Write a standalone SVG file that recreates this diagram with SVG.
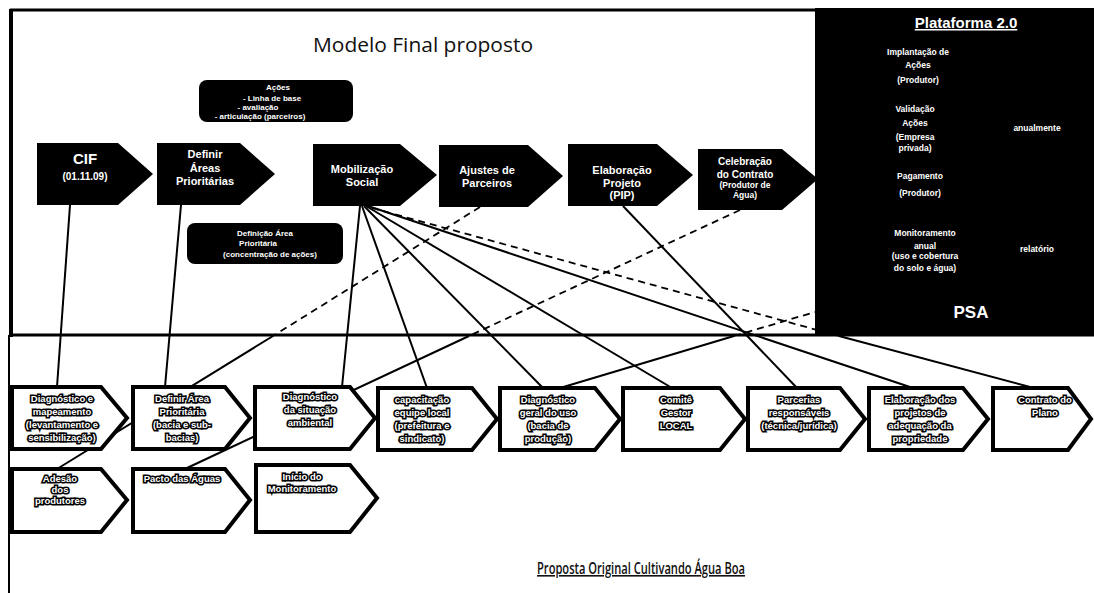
<svg xmlns="http://www.w3.org/2000/svg" width="1094" height="593" viewBox="0 0 1094 593">
<style>
.frame{stroke:#000;fill:none}
.c{stroke:#000;stroke-width:2;fill:none}
.d{stroke:#000;stroke-width:1.8;fill:none;stroke-dasharray:7 5}
.bk{fill:#000}
.wb{fill:#fff;stroke:#000;stroke-width:4;stroke-linejoin:miter}
.tw{fill:#fff;font-family:"Liberation Sans",Arial,sans-serif;font-weight:bold;text-anchor:middle}
.to{fill:#fff;stroke:#000;stroke-width:3.2;paint-order:stroke;font-family:"Liberation Sans",Arial,sans-serif;font-weight:bold;font-size:9.5px;text-anchor:middle}
.ttl{fill:#111;font-family:"Open Sans","Liberation Sans",sans-serif;text-anchor:middle}
</style>
<rect width="1094" height="593" fill="#fff"/>
<g id="frame">
<line class="frame" x1="10" y1="10" x2="816" y2="10" stroke-width="3"/>
<line class="frame" x1="11" y1="9" x2="11" y2="337" stroke-width="4"/>
<line class="frame" x1="10" y1="335" x2="1094" y2="335" stroke-width="3"/>
<line class="frame" x1="9" y1="335" x2="9" y2="593" stroke-width="2"/>
</g>
<g id="connectors">
<line class="c" x1="70" y1="205" x2="57" y2="387"/>
<line class="c" x1="181" y1="205" x2="165" y2="387"/>
<line class="c" x1="360" y1="206" x2="342" y2="387"/>
<line class="c" x1="362" y1="206" x2="427" y2="388"/>
<line class="c" x1="364" y1="206" x2="543" y2="388"/>
<line class="c" x1="366" y1="206" x2="672" y2="388"/>
<line class="c" x1="368" y1="206" x2="913" y2="388"/>
<line class="c" x1="623" y1="206" x2="797" y2="388"/>
<line class="d" x1="480" y1="207" x2="273" y2="336"/>
<line class="c" x1="273" y1="336" x2="57" y2="469"/>
<line class="d" x1="740" y1="210" x2="469" y2="336"/>
<line class="c" x1="469" y1="336" x2="187" y2="468"/>
<line class="d" x1="372" y1="208" x2="839" y2="336"/>
<line class="c" x1="839" y1="336" x2="1030" y2="387"/>
<line class="c" x1="560" y1="388" x2="734" y2="336"/>
<line class="d" x1="734" y1="336" x2="815" y2="312"/>
</g>
<text class="ttl" x="423" y="52" font-size="20" textLength="220" lengthAdjust="spacingAndGlyphs">Modelo Final proposto</text>
<g id="n-acoes">
<rect class="bk" x="199" y="80" width="154" height="42" rx="8"/>
<text class="tw" font-size="8" x="278" y="90">Ações</text>
<text class="tw" font-size="8" x="272" y="101">- Linha de base</text>
<text class="tw" font-size="8" x="258" y="110">- avaliação</text>
<text class="tw" font-size="8" x="260" y="119">- articulação (parceiros)</text>
</g>
<g id="n-definicao">
<rect class="bk" x="187" y="223" width="156" height="41" rx="8"/>
<text class="tw" font-size="8" x="265" y="236">Definição Área</text>
<text class="tw" font-size="8" x="258" y="246">Prioritária</text>
<text class="tw" font-size="8" x="270" y="257">(concentração de ações)</text>
</g>
<g id="n-cif">
<path class="bk" d="M37,143 H118 L153,174 L118,205 H37 Z"/>
<text class="tw" font-size="15" x="85" y="164">CIF</text>
<text class="tw" font-size="10" x="85" y="180">(01.11.09)</text>
</g>
<g id="n-definir">
<path class="bk" d="M157,143 H240 L275,174 L240,205 H157 Z"/>
<text class="tw" font-size="11" x="205" y="158">Definir</text>
<text class="tw" font-size="11" x="205" y="172">Áreas</text>
<text class="tw" font-size="11" x="205" y="185">Prioritárias</text>
</g>
<g id="n-mobilizacao">
<path class="bk" d="M313,144 H400 L437,175 L400,206 H313 Z"/>
<text class="tw" font-size="11" x="362" y="173">Mobilização</text>
<text class="tw" font-size="11" x="362" y="186">Social</text>
</g>
<g id="n-ajustes">
<path class="bk" d="M439,145 H528 L563,176 L528,207 H439 Z"/>
<text class="tw" font-size="11" x="487" y="174">Ajustes de</text>
<text class="tw" font-size="11" x="487" y="187">Parceiros</text>
</g>
<g id="n-elaboracao">
<path class="bk" d="M568,144 H657 L693,175 L657,206 H568 Z"/>
<text class="tw" font-size="11" x="622" y="174">Elaboração</text>
<text class="tw" font-size="11" x="622" y="187">Projeto</text>
<text class="tw" font-size="11" x="622" y="199">(PIP)</text>
</g>
<g id="n-celebracao">
<path class="bk" d="M698,149 H782 L818,179 L782,210 H698 Z"/>
<text class="tw" font-size="10" x="745" y="165">Celebração</text>
<text class="tw" font-size="10" x="745" y="178">do Contrato</text>
<text class="tw" font-size="8.5" x="745" y="188">(Produtor de</text>
<text class="tw" font-size="8.5" x="745" y="198">Água)</text>
</g>
<g id="n-plataforma">
<rect class="bk" x="815" y="8" width="279" height="328"/>
<text class="tw" font-size="15" x="966" y="28" text-decoration="underline">Plataforma 2.0</text>
<text class="tw" font-size="8.5" x="918" y="55">Implantação de</text>
<text class="tw" font-size="8.5" x="918" y="68">Ações</text>
<text class="tw" font-size="8.5" x="918" y="83">(Produtor)</text>
<text class="tw" font-size="8.5" x="915" y="112">Validação</text>
<text class="tw" font-size="8.5" x="915" y="126">Ações</text>
<text class="tw" font-size="8.5" x="915" y="140">(Empresa</text>
<text class="tw" font-size="8.5" x="915" y="151">privada)</text>
<text class="tw" font-size="8.5" x="1037" y="131">anualmente</text>
<text class="tw" font-size="8.5" x="920" y="179">Pagamento</text>
<text class="tw" font-size="8.5" x="920" y="196">(Produtor)</text>
<text class="tw" font-size="8.5" x="925" y="236">Monitoramento</text>
<text class="tw" font-size="8.5" x="925" y="249">anual</text>
<text class="tw" font-size="8.5" x="925" y="259">(uso e cobertura</text>
<text class="tw" font-size="8.5" x="925" y="271">do solo e água)</text>
<text class="tw" font-size="8.5" x="1037" y="252">relatório</text>
<text class="tw" font-size="17" x="971" y="318">PSA</text>
</g>
<g id="b1">
<path class="wb" d="M12,387 H101 L127,418 L101,449 H12 Z"/>
<text class="to" x="62" y="402">Diagnóstico e</text>
<text class="to" x="62" y="415">mapeamento</text>
<text class="to" x="62" y="428">(levantamento e</text>
<text class="to" x="62" y="441">sensibilização)</text>
</g>
<g id="b2">
<path class="wb" d="M133,387 H225 L250,418 L225,449 H133 Z"/>
<text class="to" x="182" y="402">Definir Área</text>
<text class="to" x="182" y="415">Prioritária</text>
<text class="to" x="182" y="428">(bacia e sub-</text>
<text class="to" x="182" y="441">bacias)</text>
</g>
<g id="b3">
<path class="wb" d="M255,387 H350 L375,418 L350,449 H255 Z"/>
<text class="to" x="310" y="400">Diagnóstico</text>
<text class="to" x="310" y="413">da situação</text>
<text class="to" x="310" y="426">ambiental</text>
</g>
<g id="b4">
<path class="wb" d="M378,388 H472 L497,419 L472,450 H378 Z"/>
<text class="to" x="422" y="403">capacitação</text>
<text class="to" x="422" y="416">equipe local</text>
<text class="to" x="422" y="429">(prefeitura e</text>
<text class="to" x="422" y="442">sindicato)</text>
</g>
<g id="b5">
<path class="wb" d="M500,388 H595 L620,419 L595,450 H500 Z"/>
<text class="to" x="548" y="403">Diagnóstico</text>
<text class="to" x="548" y="416">geral do uso</text>
<text class="to" x="548" y="429">(bacia de</text>
<text class="to" x="548" y="442">produção)</text>
</g>
<g id="b6">
<path class="wb" d="M623,388 H720 L745,419 L720,450 H623 Z"/>
<text class="to" x="676" y="403">Comitê</text>
<text class="to" x="676" y="416">Gestor</text>
<text class="to" x="676" y="429">LOCAL</text>
</g>
<g id="b7">
<path class="wb" d="M748,388 H840 L865,419 L840,450 H748 Z"/>
<text class="to" x="799" y="403">Parcerias</text>
<text class="to" x="799" y="416">responsáveis</text>
<text class="to" x="799" y="429">(técnica/jurídica)</text>
</g>
<g id="b8">
<path class="wb" d="M869,388 H963 L988,419 L963,450 H869 Z"/>
<text class="to" x="920" y="403">Elaboração dos</text>
<text class="to" x="920" y="416">projetos de</text>
<text class="to" x="920" y="429">adequação da</text>
<text class="to" x="920" y="442">propriedade</text>
</g>
<g id="b9">
<path class="wb" d="M993,388 H1068 L1091,419 L1068,450 H993 Z"/>
<text class="to" x="1045" y="403">Contrato do</text>
<text class="to" x="1045" y="416">Plano</text>
</g>
<g id="r2a">
<path class="wb" d="M12,469 H101 L127,500 L101,532 H12 Z"/>
<text class="to" x="60" y="482">Adesão</text>
<text class="to" x="60" y="493">dos</text>
<text class="to" x="60" y="504">produtores</text>
</g>
<g id="r2b">
<path class="wb" d="M133,469 H225 L250,500 L225,532 H133 Z"/>
<text class="to" x="182" y="482">Pacto das Águas</text>
</g>
<g id="r2c">
<path class="wb" d="M256,465 H350 L377,498 L350,532 H256 Z"/>
<text class="to" x="302" y="480">Início do</text>
<text class="to" x="302" y="492">Monitoramento</text>
</g>
<text class="ttl" x="641" y="574" font-size="16" font-weight="600" text-decoration="underline" textLength="208" lengthAdjust="spacingAndGlyphs">Proposta Original Cultivando Água Boa</text>
</svg>
